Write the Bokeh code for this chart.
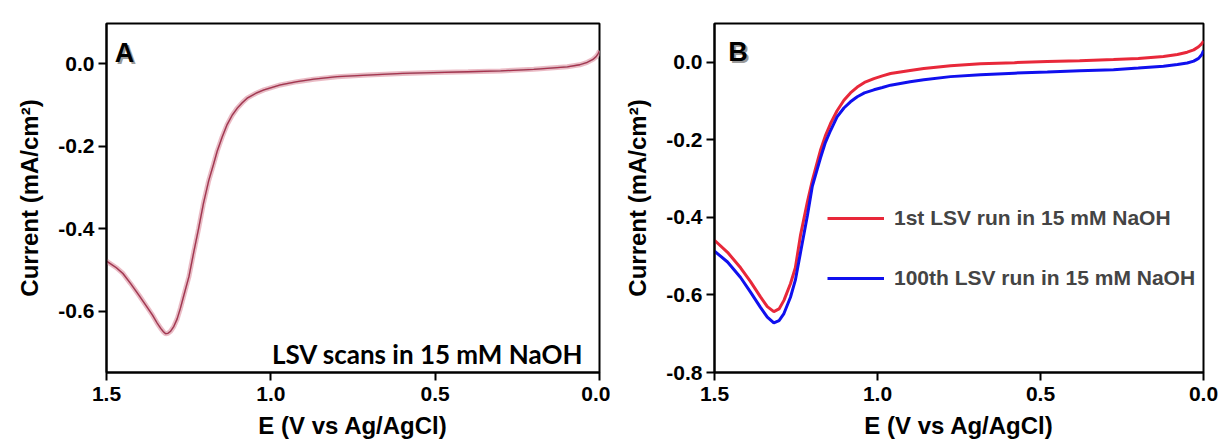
from bokeh.plotting import figure
from bokeh.layouts import row
from bokeh.models import Range1d, FixedTicker, PrintfTickFormatter, Label, Legend, LegendItem
from bokeh.embed import file_html
from bokeh.resources import INLINE

# ---- Panel A data (overlapping LSV scans) ----
A_E = [1.500, 1.470, 1.450, 1.427, 1.400, 1.376, 1.360, 1.346, 1.335, 1.326, 1.320,
       1.313, 1.305, 1.295, 1.285, 1.275, 1.265, 1.249, 1.235, 1.220, 1.205, 1.189,
       1.175, 1.163, 1.148, 1.133, 1.118, 1.102, 1.087, 1.072, 1.045, 1.021, 0.971,
       0.920, 0.869, 0.798, 0.706, 0.600, 0.505, 0.400, 0.301, 0.200, 0.098, 0.060,
       0.037, 0.020, 0.010, 0.004, 0.000]
A_I = [-0.478, -0.494, -0.508, -0.532, -0.562, -0.590, -0.609, -0.628, -0.641, -0.650, -0.654,
       -0.653, -0.648, -0.636, -0.618, -0.592, -0.562, -0.515, -0.458, -0.400, -0.338, -0.283,
       -0.245, -0.211, -0.177, -0.147, -0.125, -0.107, -0.094, -0.083, -0.071, -0.063, -0.051,
       -0.043, -0.037, -0.031, -0.027, -0.023, -0.021, -0.019, -0.017, -0.013, -0.007, -0.002,
       0.004, 0.011, 0.018, 0.025, 0.032]

# ---- Panel B data ----
B_E = [1.500, 1.460, 1.420, 1.390, 1.359, 1.338, 1.318, 1.302, 1.287, 1.267, 1.252,
       1.236, 1.215, 1.200, 1.185, 1.175, 1.160, 1.144, 1.124, 1.103, 1.083, 1.062,
       1.040, 1.011, 0.985, 0.960, 0.900, 0.858, 0.776, 0.684, 0.580, 0.479, 0.380,
       0.276, 0.200, 0.123, 0.080, 0.050, 0.030, 0.015, 0.005, 0.000]
B_I_run1 = [-0.459, -0.490, -0.530, -0.565, -0.605, -0.630, -0.643, -0.636, -0.614, -0.571, -0.530,
            -0.445, -0.360, -0.305, -0.258, -0.227, -0.190, -0.158, -0.125, -0.098, -0.079, -0.064,
            -0.052, -0.042, -0.035, -0.029, -0.021, -0.016, -0.009, -0.004, -0.001, 0.002, 0.004,
            0.007, 0.010, 0.015, 0.020, 0.026, 0.032, 0.040, 0.048, 0.055]
B_I_run100 = [-0.487, -0.515, -0.555, -0.592, -0.632, -0.657, -0.672, -0.666, -0.648, -0.606, -0.562,
              -0.490, -0.395, -0.320, -0.276, -0.247, -0.207, -0.176, -0.141, -0.118, -0.102, -0.089,
              -0.079, -0.071, -0.065, -0.059, -0.050, -0.045, -0.037, -0.032, -0.028, -0.025, -0.022,
              -0.019, -0.015, -0.010, -0.006, -0.002, 0.003, 0.010, 0.020, 0.030]

X_TICKS = [1.5, 1.0, 0.5, 0.0]
A_Y_TICKS = [0.0, -0.2, -0.4, -0.6]
B_Y_TICKS = [0.0, -0.2, -0.4, -0.6, -0.8]
SERIES_B = ["1st LSV run in 15 mM NaOH", "100th LSV run in 15 mM NaOH"]
NOTE_A = "LSV scans in 15 mM NaOH"

FONT = "Liberation Sans"


def style(p, yticks):
    p.xgrid.visible = False
    p.ygrid.visible = False
    p.outline_line_color = "black"
    p.outline_line_width = 2
    p.background_fill_color = "white"
    p.border_fill_color = "white"
    p.xaxis.ticker = FixedTicker(ticks=X_TICKS)
    p.yaxis.ticker = FixedTicker(ticks=yticks)
    p.xaxis.formatter = PrintfTickFormatter(format="%.1f")
    p.yaxis.formatter = PrintfTickFormatter(format="%.1f")
    for ax in (p.xaxis, p.yaxis):
        ax.axis_line_width = 2
        ax.axis_line_color = "black"
        ax.major_tick_line_width = 2
        ax.major_tick_line_color = "black"
        ax.major_tick_out = 8
        ax.major_tick_in = 0
        ax.minor_tick_line_color = None
        ax.major_label_text_font = FONT
        ax.major_label_text_font_style = "bold"
        ax.major_label_text_font_size = "21px"
        ax.major_label_text_color = "black"
        ax.axis_label_text_font = FONT
        ax.axis_label_text_font_style = "bold"
        ax.axis_label_text_font_size = "24px"
        ax.axis_label_text_color = "black"
    p.xaxis.axis_label = "E (V vs Ag/AgCl)"
    p.yaxis.axis_label = "Current (mA/cm²)"
    p.xaxis.major_label_standoff = 6
    p.xaxis.axis_label_standoff = 8
    p.yaxis.major_label_standoff = 4
    p.yaxis.axis_label_standoff = 12


def panel_letter(p, x, y, t):
    p.add_layout(Label(x=x, y=y, text=t, text_baseline="top", text_font=FONT,
                       text_font_style="bold", text_font_size="27px", text_color="#9a9a9a",
                       x_offset=2, y_offset=-2))
    p.add_layout(Label(x=x, y=y, text=t, text_baseline="top", text_font=FONT,
                       text_font_style="bold", text_font_size="27px", text_color="black"))


# ---- Panel A ----
pa = figure(width=610, height=444, x_range=Range1d(1.5, 0.0), y_range=Range1d(-0.748, 0.098),
            output_backend="svg", toolbar_location=None,
            min_border_left=106, min_border_right=11, min_border_top=21, min_border_bottom=70)
style(pa, A_Y_TICKS)
pa.line(A_E, A_I, line_color="#9fd6d6", line_width=2, line_alpha=0.7)
pa.line(A_E, A_I, line_color="#e6aab6", line_width=5, line_alpha=0.8)
pa.line(A_E, A_I, line_color="#9a9a9a", line_width=1.5, line_alpha=0.6)
pa.line(A_E, A_I, line_color="#a8324e", line_width=1.3)
panel_letter(pa, 1.475, 0.062, "A")
pa.add_layout(Label(x=0.049, y=-0.702, text=NOTE_A, text_align="right", text_baseline="alphabetic",
                    text_font="Lato", text_font_style="bold", text_font_size="26px",
                    text_color="black"))

# ---- Panel B ----
pb = figure(width=611, height=444, x_range=Range1d(1.5, 0.0), y_range=Range1d(-0.8, 0.1),
            output_backend="svg", toolbar_location=None,
            min_border_left=104, min_border_right=18, min_border_top=23, min_border_bottom=72)
style(pb, B_Y_TICKS)
r1 = pb.line(B_E, B_I_run1, line_color="#e8283a", line_width=3)
r100 = pb.line(B_E, B_I_run100, line_color="#1010ee", line_width=3)
panel_letter(pb, 1.458, 0.065, "B")
legend = Legend(items=[LegendItem(label=SERIES_B[0], renderers=[r1]),
                       LegendItem(label=SERIES_B[1], renderers=[r100])],
                location=(113, 82), glyph_width=57, glyph_height=20, label_height=20,
                spacing=36, label_standoff=10, padding=0, margin=0,
                border_line_alpha=0, background_fill_alpha=0,
                label_text_font=FONT, label_text_font_style="bold",
                label_text_font_size="21px")
pb.add_layout(legend)

layout = row(pa, pb)
open("out.html", "w").write(file_html(layout, INLINE))
